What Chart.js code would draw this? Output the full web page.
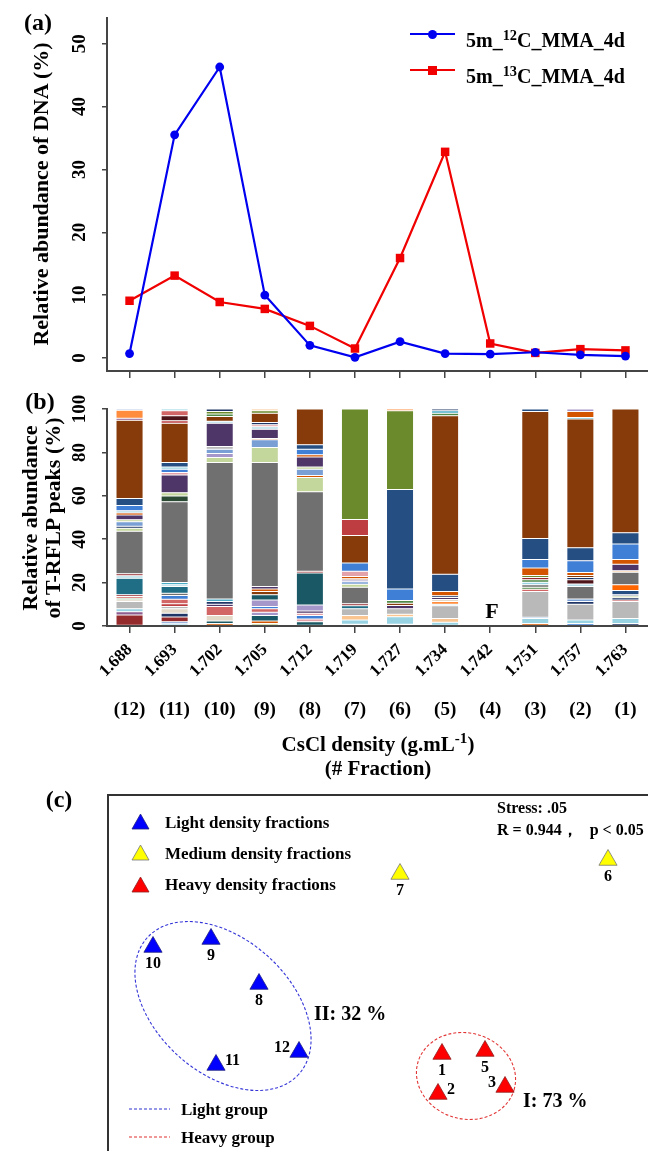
<!DOCTYPE html>
<html><head><meta charset="utf-8"><title>DNA-SIP MMA</title>
<script src="https://cdn.jsdelivr.net/npm/chart.js@4.4.1/dist/chart.umd.min.js"></script>
<style>
html,body{margin:0;padding:0;background:#fff;}
body{position:relative;width:648px;height:1151px;overflow:hidden;font-family:"Liberation Serif","Times New Roman",serif;font-weight:bold;color:#000;}
canvas{position:absolute;}
.t{position:absolute;white-space:nowrap;line-height:1;}
.c{transform:translate(-50%,-50%);}
.l{transform:translateY(-50%);}
.rot{transform:translate(-50%,-50%) rotate(-90deg);}
sup{font-size:0.72em;vertical-align:0;position:relative;top:-0.5em;}
.sw{position:absolute;}
</style></head>
<body>
<canvas id="cA" width="648" height="385" style="left:0;top:0"></canvas>
<canvas id="cB" width="648" height="405" style="left:0;top:385px"></canvas>
<canvas id="cC" width="648" height="371" style="left:0;top:780px"></canvas>

<!-- panel (a) texts -->
<div class="t c" style="left:38px;top:22px;font-size:24px">(a)</div>
<div class="t rot" style="left:41px;top:194px;font-size:22px">Relative abundance of DNA (%)</div>
<div class="sw" style="left:410px;top:33px;width:45px;height:2px;background:#0000F0"></div>
<div class="sw" style="left:428px;top:29.5px;width:9px;height:9px;border-radius:50%;background:#0000F0"></div>
<div class="t" style="left:466px;top:30px;font-size:20px">5m_<sup>12</sup>C_MMA_4d</div>
<div class="sw" style="left:410px;top:69px;width:45px;height:2px;background:#F00000"></div>
<div class="sw" style="left:428px;top:66px;width:9px;height:9px;background:#F00000"></div>
<div class="t" style="left:466px;top:66px;font-size:20px">5m_<sup>13</sup>C_MMA_4d</div>

<!-- panel (b) texts -->
<div class="t c" style="left:40px;top:401px;font-size:24px">(b)</div>
<div class="t rot" style="left:30px;top:518px;font-size:22px">Relative abundance</div>
<div class="t rot" style="left:53px;top:518px;font-size:22px">of T-RFLP peaks (%)</div>
<div class="t c" style="left:492px;top:611px;font-size:22px">F</div>
<div class="t c" style="left:378px;top:744px;font-size:21px">CsCl density (g.mL<sup>-1</sup>)</div>
<div class="t c" style="left:378px;top:768px;font-size:21px">(# Fraction)</div>

<!-- panel (c) texts -->
<div class="t c" style="left:59px;top:799px;font-size:24px">(c)</div>
<svg class="sw" style="left:131px;top:813px" width="19" height="17"><polygon points="9.5,1 18,16 1,16" fill="#0000FF" stroke="#202080" stroke-width="0.8"/></svg>
<svg class="sw" style="left:131px;top:844px" width="19" height="17"><polygon points="9.5,1 18,16 1,16" fill="#FFFF00" stroke="#777" stroke-width="0.8"/></svg>
<svg class="sw" style="left:131px;top:876px" width="19" height="17"><polygon points="9.5,1 18,16 1,16" fill="#FF0000" stroke="#902020" stroke-width="0.8"/></svg>
<div class="t l" style="left:165px;top:822px;font-size:17px">Light density fractions</div>
<div class="t l" style="left:165px;top:853px;font-size:17px">Medium density fractions</div>
<div class="t l" style="left:165px;top:884px;font-size:17px">Heavy density fractions</div>
<div class="t l" style="left:497px;top:808px;font-size:16px">Stress: .05</div>
<div class="t l" style="left:497px;top:830px;font-size:16px">R = 0.944，&nbsp;&nbsp;&nbsp;p &lt; 0.05</div>
<div class="t l" style="left:314px;top:1013px;font-size:20px">II: 32 %</div>
<div class="t l" style="left:523px;top:1100px;font-size:20px">I: 73 %</div>
<svg class="sw" style="left:128px;top:1104px" width="44" height="10"><line x1="1" y1="5" x2="42" y2="5" stroke="#3030D0" stroke-width="1.2" stroke-dasharray="3,2"/></svg>
<div class="t l" style="left:181px;top:1109px;font-size:17px">Light group</div>
<svg class="sw" style="left:128px;top:1132px" width="44" height="10"><line x1="1" y1="5" x2="42" y2="5" stroke="#E03030" stroke-width="1.2" stroke-dasharray="3,2"/></svg>
<div class="t l" style="left:181px;top:1137px;font-size:17px">Heavy group</div>

<script>
// ---------------- data ----------------
const densities = ['1.688','1.693','1.702','1.705','1.712','1.719','1.727','1.734','1.742','1.751','1.757','1.763'];
const fractionNos = ['(12)','(11)','(10)','(9)','(8)','(7)','(6)','(5)','(4)','(3)','(2)','(1)'];
const dna12C = [0.7, 35.5, 46.3, 10.0, 2.0, 0.1, 2.6, 0.7, 0.6, 0.9, 0.5, 0.3];
const dna13C = [9.1, 13.1, 8.9, 7.8, 5.1, 1.5, 15.9, 32.8, 2.3, 0.8, 1.4, 1.2];
const dnaTicks = [0, 10, 20, 30, 40, 50];
const peakTicks = [0, 20, 40, 60, 80, 100];

// T-RF peaks per fraction, from bottom to top: [peak colour key, relative abundance %]
const peaks1688 = [['dred',5.1],['mau',1.5],['lcy',1.3],['lgry',3.4],['bei',0.8],['grn',0.7],['sal',0.8],['dred',0.8],['teal',7.6],['ltb',1.1],['dred',1.0],['gry',19.6],['lgrn',1.3],['nav',1.0],['cfl',2.0],['lgrn',1.0],['pur',2.1],['rora',1.0],['ltb',1.0],['blu',2.4],['dblu',3.2],['brn',36.1],['mau',0.9],['ora',3.7],['cfl',0.6]];
const peaks1693 = [['lcy',1.0],['cfl',1.0],['dred',2.2],['nav',1.7],['bei',2.0],['lgry',1.1],['red',1.2],['sal',2.1],['blu',1.7],['gry',1.1],['teal',3.1],['ltb',0.8],['tbl',1.1],['gry',37.2],['dgrn',2.6],['lgrn',1.5],['pur',8.2],['pnk',1.1],['blu',1.5],['lcy',1.1],['dblu',2.0],['brn',18.1],['red',1.2],['mrn',2.3],['sal',2.3],['lcy',0.8]];
const peaks1702 = [['rora',1.2],['dteal',1.1],['bei',2.5],['sal',4.2],['pur',1.0],['nav',1.3],['tbl',1.2],['gry',62.8],['lgrn',2.3],['lav',1.9],['cfl',2.0],['lgry',1.2],['pur',10.7],['ltb',0.9],['brn',2.2],['grn',1.2],['olv',1.2],['nav',1.1]];
const peaks1705 = [['lgrn',1.2],['rora',1.1],['dteal',2.5],['lav',1.5],['sal',1.6],['blu',1.1],['lav',3.0],['dteal',2.4],['brn',1.5],['rora',1.1],['pur',1.2],['gry',57.1],['lgrn',7.0],['cfl',3.5],['rora',0.6],['pur',4.3],['ltb',1.1],['pnk',0.9],['nav',1.1],['brn',4.2],['olv',1.2],['pch',0.8]];
const peaks1712 = [['dteal',2.0],['pnk',1.2],['blu',1.6],['pnk',1.1],['pur',1.0],['lav',2.8],['dteal',14.7],['dred',0.8],['gry',36.7],['lgrn',6.5],['rora',1.0],['cfl',2.8],['lgrn',1.1],['pur',4.6],['rora',1.0],['blu',2.6],['dblu',2.0],['brn',16.5]];
const peaks1719 = [['lgrn',0.8],['lcy',2.0],['pch',2.0],['lgry',3.1],['teal',1.4],['dred',0.9],['gry',7.6],['lgrn',1.4],['cfl',1.2],['lav',0.8],['brn',0.6],['rora',1.0],['pnk',2.4],['blu',3.8],['brn',12.7],['red',7.4],['olv',50.9]];
const peaks1727 = [['olv',0.8],['lcy',3.5],['pch',1.1],['lgry',2.5],['pur',1.5],['brn',1.1],['grn',1.2],['blu',5.4],['dblu',45.8],['olv',36.3],['ora',0.8]];
const peaks1734 = [['lcy',1.7],['pch',1.8],['lgry',5.8],['ltb',0.7],['ora',1.3],['bei',0.9],['pur',0.9],['nav',0.8],['rora',2.0],['dblu',8.0],['brn',73.0],['grn',1.1],['tbl',1.2],['nav',0.8]];
const peaks1742 = [];
const peaks1751 = [['rora',1.2],['lcy',2.3],['blu',0.5],['lgry',11.9],['sal',1.0],['grn',1.0],['gry',1.1],['lcy',1.2],['grn',1.1],['dred',1.1],['olv',0.9],['rora',3.4],['blu',3.9],['dblu',9.7],['brn',58.6],['dblu',1.1]];
const peaks1757 = [['blu',1.2],['lcy',1.6],['lgry',7.2],['nav',1.3],['cfl',1.2],['gry',5.7],['ltb',1.1],['mrn',2.0],['nav',1.0],['brn',1.0],['rora',1.4],['blu',5.4],['dblu',6.0],['brn',59.3],['tbl',0.7],['rora',2.8],['lav',1.1]];
const peaks1763 = [['nav',1.2],['lcy',2.3],['lgry',7.8],['red',0.7],['nav',1.0],['lgrn',0.8],['nav',0.6],['dblu',2.0],['bora',2.6],['gry',5.8],['pch',0.7],['pur',3.0],['rora',2.1],['blu',7.2],['dblu',5.2],['brn',57.0]];
const peakBars = [peaks1688,peaks1693,peaks1702,peaks1705,peaks1712,peaks1719,peaks1727,peaks1734,peaks1742,peaks1751,peaks1757,peaks1763];

// NMDS ordination (fraction numbers and coordinates)
const lightIds = ['10','9','8','11','12'];
const lightX = [-1.175, -0.885, -0.645, -0.86, -0.445];
const lightY = [0.02, 0.06, -0.165, -0.57, -0.505];
const mediumIds = ['7','6'];
const mediumX = [0.06, 1.1];
const mediumY = [0.385, 0.455];
const heavyIds = ['1','5','2','3'];
const heavyX = [0.27, 0.485, 0.25, 0.585];
const heavyY = [-0.515, -0.50, -0.715, -0.68];
const lightGroup = {cx:-0.825, cy:-0.275, rx:0.51, ry:0.335, angle:42};
const heavyGroup = {cx:0.39, cy:-0.625, rx:0.25, ry:0.215, angle:15};

// ---------------- styles ----------------
const SERIF = '"Liberation Serif","Times New Roman",serif';
const trfColor = {
  brn:'#873A0A', gry:'#707070', lgry:'#B9B9B9', dblu:'#254E83', blu:'#3F7FD5', cfl:'#7A9FD4',
  pur:'#4F3668', lgrn:'#C3D69B', olv:'#6A8A2C', teal:'#1F6E85', dteal:'#1A5865', red:'#BE3D40',
  dred:'#942A2C', sal:'#D26565', ora:'#FF8D3D', bora:'#FF6600', rora:'#D45500', lcy:'#98D3E3',
  pch:'#FAC590', lav:'#A597CA', pnk:'#E3A2A9', nav:'#1F3566', mrn:'#4D1519', grn:'#4F8A48',
  dgrn:'#2C4A34', tbl:'#4BACC6', bei:'#E2D9C9', mau:'#8E5C8E', ltb:'#B7DDE8'
};
const AXIS = '#454545';

const rotatedYTicks = {
  id:'rotatedYTicks',
  afterDraw(chart, args, o){
    const s = chart.scales.y, ctx = chart.ctx;
    ctx.save();
    ctx.font = `bold ${o.size}px ${SERIF}`;
    ctx.fillStyle = '#000'; ctx.textAlign = 'center'; ctx.textBaseline = 'middle';
    for (const t of s.ticks){
      const y = s.getPixelForValue(t.value);
      ctx.save(); ctx.translate(o.x, y); ctx.rotate(-Math.PI/2);
      ctx.fillText(String(t.value), 0, 0); ctx.restore();
    }
    ctx.restore();
  }
};

// ---------------- panel (a) ----------------
new Chart(document.getElementById('cA'), {
  type:'line',
  data:{labels:densities, datasets:[
    {label:'5m_12C_MMA_4d', data:dna12C, borderColor:'#0000F0', backgroundColor:'#0000F0', borderWidth:2.2,
     pointStyle:'circle', pointRadius:4.4, pointBorderWidth:0, tension:0},
    {label:'5m_13C_MMA_4d', data:dna13C, borderColor:'#F00000', backgroundColor:'#F00000', borderWidth:2.2,
     pointStyle:'rect', pointRadius:6, pointBorderWidth:0, tension:0}
  ]},
  options:{
    responsive:false, animation:false, events:[],
    layout:{autoPadding:false, padding:{top:18, left:0, right:0, bottom:0}},
    plugins:{legend:{display:false}, tooltip:{enabled:false}, rotatedYTicks:{x:80, size:19}},
    scales:{
      x:{type:'category', offset:true,
         grid:{offset:false, drawOnChartArea:false, drawTicks:true, tickLength:7, color:AXIS, lineWidth:1.5},
         border:{display:true, color:AXIS, width:2}, ticks:{display:false},
         afterFit:s=>{s.height = 385-371;}},
      y:{type:'linear', min:-2.08, max:54.1,
         afterBuildTicks:s=>{s.ticks = dnaTicks.map(v=>({value:v}));},
         grid:{drawOnChartArea:false, drawTicks:true, tickLength:5, color:AXIS, lineWidth:1.5},
         border:{display:true, color:AXIS, width:2}, ticks:{display:false},
         afterFit:s=>{s.width = 107;}}
    }
  },
  plugins:[rotatedYTicks]
});

// ---------------- panel (b) ----------------
const nLayers = Math.max(...peakBars.map(b=>b.length));
const peakDatasets = [];
for (let j=0; j<nLayers; j++){
  peakDatasets.push({
    label:'layer '+(j+1),
    data: peakBars.map(b => b[j] ? b[j][1] : null),
    backgroundColor: peakBars.map(b => b[j] ? trfColor[b[j][0]] : 'rgba(0,0,0,0)'),
    borderColor:'rgba(255,255,255,0.45)', borderWidth:0.5, borderSkipped:false,
    barPercentage:0.6, categoryPercentage:1
  });
}
const fractionRow = {
  id:'fractionRow',
  afterDraw(chart, args, o){
    const s = chart.scales.x, ctx = chart.ctx;
    ctx.save(); ctx.font = `bold ${o.size}px ${SERIF}`; ctx.fillStyle = '#000';
    ctx.textAlign = 'center'; ctx.textBaseline = 'middle';
    fractionNos.forEach((f,i)=>ctx.fillText(f, s.getPixelForTick(i), o.y));
    ctx.restore();
  }
};
new Chart(document.getElementById('cB'), {
  type:'bar',
  data:{labels:densities, datasets:peakDatasets},
  options:{
    responsive:false, animation:false, events:[],
    layout:{autoPadding:false, padding:{top:24, left:0, right:0, bottom:0}},
    plugins:{legend:{display:false}, tooltip:{enabled:false}, rotatedYTicks:{x:80, size:19}, fractionRow:{y:325, size:19}},
    scales:{
      x:{type:'category', stacked:true, offset:true,
         grid:{offset:false, drawOnChartArea:false, drawTicks:true, tickLength:7, color:AXIS, lineWidth:1.5},
         border:{display:true, color:AXIS, width:2},
         ticks:{autoSkip:false, minRotation:45, maxRotation:45, padding:7, color:'#000',
                font:{family:SERIF, weight:'bold', size:17}},
         afterFit:s=>{s.height = 405-241;}},
      y:{type:'linear', stacked:true, min:0, max:100,
         afterBuildTicks:s=>{s.ticks = peakTicks.map(v=>({value:v}));},
         grid:{drawOnChartArea:false, drawTicks:true, tickLength:5, color:AXIS, lineWidth:1.5},
         border:{display:true, color:AXIS, width:2}, ticks:{display:false},
         afterFit:s=>{s.width = 107;}}
    }
  },
  plugins:[rotatedYTicks, fractionRow]
});

// ---------------- panel (c) ----------------
function pts(xs, ys){ return xs.map((x,i)=>({x, y:ys[i]})); }
const nmdsDecor = {
  id:'nmdsDecor',
  beforeDatasetsDraw(chart){
    const {ctx, chartArea:a, scales:{x:sx, y:sy}} = chart;
    ctx.save();
    ctx.strokeStyle = '#333'; ctx.lineWidth = 2;
    ctx.beginPath(); ctx.moveTo(a.left, a.bottom+5); ctx.lineTo(a.left, a.top); ctx.lineTo(a.right+5, a.top); ctx.stroke();
    const ell = (e, col)=>{
      const cx = sx.getPixelForValue(e.cx), cy = sy.getPixelForValue(e.cy);
      const rx = Math.abs(sx.getPixelForValue(e.cx+e.rx)-cx), ry = Math.abs(sy.getPixelForValue(e.cy+e.ry)-cy);
      ctx.beginPath(); ctx.ellipse(cx, cy, rx, ry, e.angle*Math.PI/180, 0, 2*Math.PI);
      ctx.setLineDash([3,2]); ctx.strokeStyle = col; ctx.lineWidth = 1.1; ctx.stroke();
    };
    ell(lightGroup, '#3535D8');
    ell(heavyGroup, '#E23535');
    ctx.restore();
  },
  afterDatasetsDraw(chart){
    const ctx = chart.ctx;
    ctx.save(); ctx.font = `bold 16px ${SERIF}`; ctx.fillStyle = '#000'; ctx.textBaseline = 'middle';
    chart.data.datasets.forEach((ds, di)=>{
      chart.getDatasetMeta(di).data.forEach((el, i)=>{
        const p = ds.labelPos[i];
        if (p==='below'){ ctx.textAlign='center'; ctx.fillText(ds.ids[i], el.x, el.y+17); }
        else if (p==='right'){ ctx.textAlign='left'; ctx.fillText(ds.ids[i], el.x+9, el.y-4); }
        else { ctx.textAlign='right'; ctx.fillText(ds.ids[i], el.x-9, el.y-4); }
      });
    });
    ctx.restore();
  }
};
new Chart(document.getElementById('cC'), {
  type:'scatter',
  data:{datasets:[
    {label:'Light density fractions', data:pts(lightX, lightY), ids:lightIds, labelPos:['below','below','below','right','left'],
     pointStyle:'triangle', pointRadius:10.5, backgroundColor:'#0000FF', borderColor:'#202080', borderWidth:0.8},
    {label:'Medium density fractions', data:pts(mediumX, mediumY), ids:mediumIds, labelPos:['below','below'],
     pointStyle:'triangle', pointRadius:10.5, backgroundColor:'#FFFF00', borderColor:'#777', borderWidth:0.8},
    {label:'Heavy density fractions', data:pts(heavyX, heavyY), ids:heavyIds, labelPos:['below','below','right','left'],
     pointStyle:'triangle', pointRadius:10.5, backgroundColor:'#FF0000', borderColor:'#902020', borderWidth:0.8}
  ]},
  options:{
    responsive:false, animation:false, events:[],
    layout:{autoPadding:false, padding:{left:108, top:15, right:0, bottom:0}},
    plugins:{legend:{display:false}, tooltip:{enabled:false}},
    scales:{x:{type:'linear', min:-1.4, max:1.3, display:false}, y:{type:'linear', min:-1.0, max:0.78, display:false}}
  },
  plugins:[nmdsDecor]
});
</script>
</body></html>
